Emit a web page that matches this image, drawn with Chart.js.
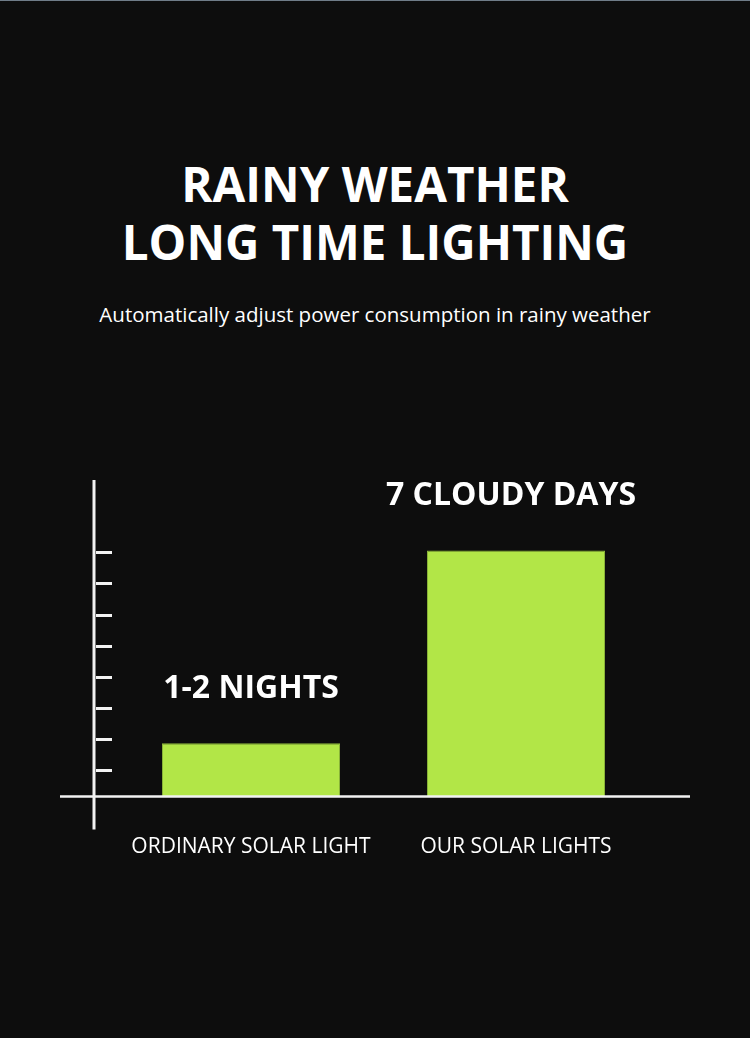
<!DOCTYPE html>
<html>
<head>
<meta charset="utf-8">
<script src="https://cdn.jsdelivr.net/npm/chart.js@4/dist/chart.umd.min.js"></script>
<style>
  html, body { margin: 0; padding: 0; }
  body {
    width: 750px; height: 1038px; position: relative; overflow: hidden;
    background: #0d0d0d; border-top: 1px solid #6f7c88; box-sizing: border-box;
    font-family: "Open Sans", "Noto Sans", sans-serif; color: #fff;
  }
  .title {
    position: absolute; left: 0; top: 154px; width: 750px; text-align: center;
    font-size: 47.5px; font-weight: 700; line-height: 58px;
  }
  .sub {
    position: absolute; left: 0; top: 300px; width: 750px; text-align: center;
    font-size: 20.5px; line-height: 26px;
  }
  .wrap { position: absolute; left: 0; top: 420px; width: 750px; height: 513px; }
</style>
</head>
<body>
<div class="title">RAINY WEATHER<br>LONG TIME LIGHTING</div>
<div class="sub">Automatically adjust power consumption in rainy weather</div>
<div class="wrap"><canvas id="chart"></canvas></div>
<script>
const categories = ['ORDINARY SOLAR LIGHT', 'OUR SOLAR LIGHTS'];
const values = [1.71, 7.89];
const barLabels = ['1-2 NIGHTS', '7 CLOUDY DAYS'];
const tickValues = [0.84, 1.84, 2.84, 3.83, 4.83, 5.83, 6.84, 7.84];
const yMax = 10.15;

const BAR_GREEN = '#b2e647';

// axis cross, tick marks and the value text over each bar
const decor = {
  id: 'decor',
  afterDatasetsDraw(chart) {
    const { ctx, chartArea } = chart;
    const y = chart.scales.y;
    const y0 = y.getPixelForValue(0);
    const axisX = chartArea.left - 24.5;
    ctx.save();
    ctx.strokeStyle = '#f2f2f2';
    ctx.lineWidth = 2.5;
    ctx.beginPath();
    ctx.moveTo(chartArea.left - 58.5, y0);
    ctx.lineTo(chartArea.right + 41.5, y0);
    ctx.stroke();
    ctx.lineWidth = 3;
    ctx.beginPath();
    ctx.moveTo(axisX, chartArea.top);
    ctx.lineTo(axisX, y0 + 33);
    ctx.stroke();
    tickValues.forEach((v) => {
      const py = Math.round(y.getPixelForValue(v)) + 0.5;
      ctx.beginPath();
      ctx.moveTo(axisX + 2, py);
      ctx.lineTo(axisX + 18, py);
      ctx.stroke();
    });

    ctx.fillStyle = '#ffffff';
    ctx.font = 'bold 32px "Open Sans", "Noto Sans", sans-serif';
    ctx.textAlign = 'center';
    ctx.textBaseline = 'alphabetic';
    chart.getDatasetMeta(0).data.forEach((bar, i) => {
      ctx.fillText(barLabels[i], bar.x - (i === 1 ? 5 : 0), bar.y - 45);
    });
    ctx.restore();
  }
};

new Chart(document.getElementById('chart'), {
  type: 'bar',
  data: {
    labels: categories,
    datasets: [{
      data: values,
      backgroundColor: BAR_GREEN,
      borderColor: '#8db83a',
      borderWidth: 1,
      categoryPercentage: 1,
      barPercentage: 0.672
    }]
  },
  options: {
    responsive: true,
    maintainAspectRatio: false,
    animation: false,
    layout: { padding: { top: 59, left: 118.5, right: 101.5, bottom: 44.2 } },
    plugins: { legend: { display: false }, tooltip: { enabled: false } },
    scales: {
      x: {
        grid: { display: false },
        border: { display: false },
        ticks: {
          color: '#ffffff',
          padding: 30,
          maxRotation: 0,
          font: { family: '"Open Sans", "Noto Sans", sans-serif', size: 21 }
        }
      },
      y: { display: false, min: 0, max: yMax }
    }
  },
  plugins: [decor]
});
</script>
</body>
</html>
